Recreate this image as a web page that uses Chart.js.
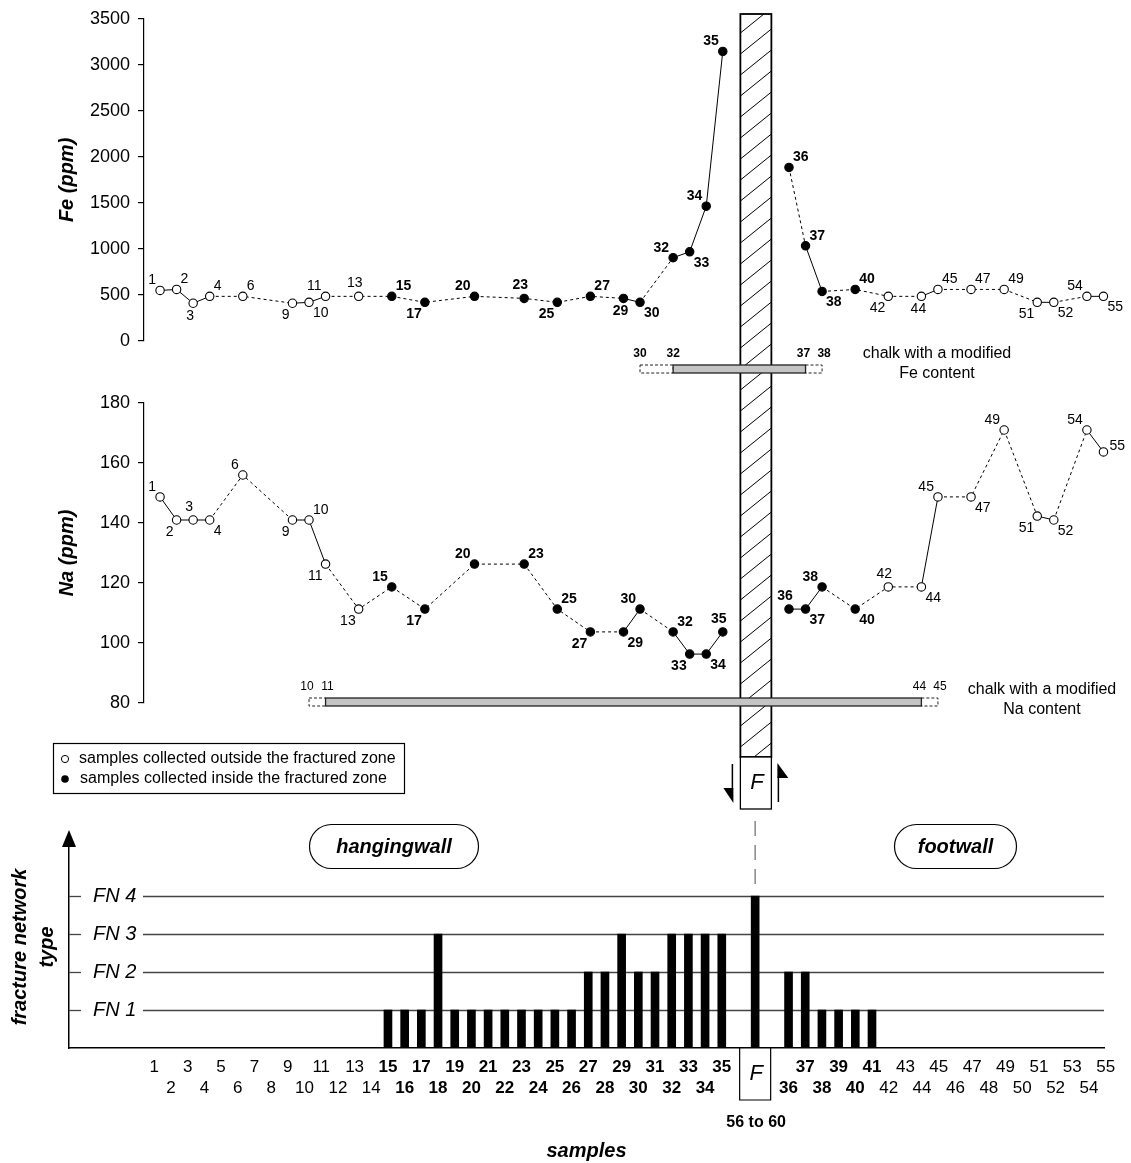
<!DOCTYPE html>
<html><head><meta charset="utf-8">
<script src="https://cdn.jsdelivr.net/npm/chart.js@4/dist/chart.umd.min.js"></script>
<style>
html,body{margin:0;padding:0;background:#fff;}
#wrap{position:relative;width:1131px;height:1163px;overflow:hidden;}
canvas{position:absolute;left:0;top:0;}
</style></head>
<body><div id="wrap">
<canvas id="cFe" width="1131" height="1163"></canvas>
<canvas id="cNa" width="1131" height="1163"></canvas>
<canvas id="cFN" width="1131" height="1163"></canvas>
</div>
<script>
// ---------------- data ----------------
const samples  = [1,2,3,4,6,9,10,11,13,15,17,20,23,25,27,29,30,32,33,34,35,36,37,38,40,42,44,45,47,49,51,52,54,55];
const feValues = [549,560,410,485,485,410,420,485,485,485,420,485,463,420,485,463,420,905,969,1464,3145,1885,1034,538,560,485,485,560,560,560,420,420,485,485];
const naValues = [148.7,141,141,141,156,141,141,126.3,111.3,118.7,111.3,126.3,126.3,111.3,103.7,103.7,111.3,103.7,96.3,96.3,103.7,111.3,111.3,118.7,111.3,118.7,118.7,148.7,148.7,171,142.3,141,171,163.7];
const fracturedZone = [15, 40];          // first / last sample collected inside the fractured zone
const feTicks = [0,500,1000,1500,2000,2500,3000,3500];
const naTicks = [80,100,120,140,160,180];
const fnSamples = [15,16,17,18,19,20,21,22,23,24,25,26,27,28,29,30,31,32,33,34,35,36,37,38,39,40,41];
const fnValues  = [1,1,1,3,1,1,1,1,1,1,1,1,2,2,3,2,2,3,3,3,3,2,2,1,1,1,1];
const faultFN = 4;
const fnTickValues = [1,2,3,4];
const fnTickLabels = ['FN 1','FN 2','FN 3','FN 4'];
const sampleNumbers = [1,2,3,4,5,6,7,8,9,10,11,12,13,14,15,16,17,18,19,20,21,22,23,24,25,26,27,28,29,30,31,32,33,34,35,36,37,38,39,40,41,42,43,44,45,46,47,48,49,50,51,52,53,54,55];
const boldSampleRange = [15, 41];
const feChalk = [30, 32, 37, 38];   // dashed start, modified start, modified end, dashed end
const naChalk = [10, 11, 44, 45];
const faultLabel = '56 to 60';

// ---------------- style helpers ----------------
const FONT = "'Liberation Sans', Arial, Helvetica, sans-serif";
Chart.defaults.font.family = FONT;
Chart.defaults.color = '#000';
const LAST_HW = 35, FAULT_GAP = 3, FAULT_POS = 37;
const posOf = s => s <= LAST_HW ? s : s + FAULT_GAP;
const sampleAt = p => p <= LAST_HW ? p : p - FAULT_GAP;
const inside = s => s >= fracturedZone[0] && s <= fracturedZone[1];
const feDottedExtra = ['36-37'];
const feLabelPos = ['ul','ur','d','ur','ur','dl','dr','ul','u','ur','dl','ul','u','dl','ur','d','dr','ul','dr','ul','ul','ur','ur','dr','ur','dl','d','ur','ur','ur','dl','dr','ul','dr'];
const naLabelPos = ['ul','dl','u','dr','ul','dl','ur','dl','dl','ul','dl','ul','ur','ur','dl','dr','ul','ur','dl','dr','u','u','dr','ul','dr','u','dr','ul','dr','ul','dl','dr','ul','r'];

function segStyle(extra) {
  return {
    borderDash: c => {
      const a = samples[c.p0DataIndex], b = samples[c.p1DataIndex];
      return (b - a > 1 || extra.includes(a + '-' + b)) ? [3, 3] : undefined;
    },
    borderColor: c => {
      const a = samples[c.p0DataIndex], b = samples[c.p1DataIndex];
      return (a <= LAST_HW && b > LAST_HW) ? 'rgba(0,0,0,0)' : undefined;
    }
  };
}

function labelPlugin(codes) {
  return {
    id: 'ptLabels',
    afterDatasetsDraw(chart) {
      const ctx = chart.ctx, meta = chart.getDatasetMeta(0);
      ctx.save();
      ctx.fillStyle = '#000'; ctx.textAlign = 'center'; ctx.textBaseline = 'middle';
      meta.data.forEach((pt, i) => {
        const s = samples[i], txt = String(s);
        ctx.font = (inside(s) ? 'bold ' : '') + '14px ' + FONT;
        const hw = ctx.measureText(txt).width / 2;
        let dx = 0, dy = 0;
        switch (codes[i]) {
          case 'ul': dx = -(4 + hw); dy = -10; break;
          case 'ur': dx = 4 + hw; dy = -10; break;
          case 'dl': dx = -(3 + hw); dy = 12; break;
          case 'dr': dx = 4 + hw; dy = 11; break;
          case 'u': dx = -4; dy = -13; break;
          case 'd': dx = -3; dy = 13; break;
          case 'r': dx = 6 + hw; dy = -6; break;
        }
        ctx.fillText(txt, pt.x + dx, pt.y + dy);
      });
      ctx.restore();
    }
  };
}

function lineChart(id, values, ticks, min, max, top, bottom, title, codes, extra) {
  return new Chart(document.getElementById(id), {
    type: 'line',
    data: { datasets: [{
      data: samples.map((s, i) => ({ x: posOf(s), y: values[i] })),
      borderColor: '#000', borderWidth: 1, tension: 0,
      pointRadius: 4.2, pointBorderWidth: 1.1, pointBorderColor: '#000',
      pointBackgroundColor: samples.map(s => inside(s) ? '#000' : '#fff'),
      segment: segStyle(extra), clip: false
    }]},
    options: {
      responsive: false, animation: false, events: [],
      layout: { padding: { top: top, bottom: 1163 - bottom, left: 0, right: 11 } },
      plugins: { legend: { display: false }, tooltip: { enabled: false } },
      scales: {
        x: { type: 'linear', min: 0.03, max: 59, display: false },
        y: {
          min: min, max: max,
          afterBuildTicks: s => { s.ticks = ticks.map(v => ({ value: v })); },
          afterFit: s => { s.width = 144; },
          grid: { drawOnChartArea: false, drawTicks: true, tickLength: 6, color: '#000', lineWidth: 1.2 },
          border: { display: true, color: '#000', width: 1.2 },
          ticks: { padding: 8, color: '#000', font: { size: 18 }, callback: v => String(v) },
          title: { display: true, text: title, color: '#000',
                   font: { size: 20, weight: 'bold', style: 'italic' }, padding: { top: 55, bottom: 0 } }
        }
      }
    },
    plugins: [labelPlugin(codes)]
  });
}

const feChart = lineChart('cFe', feValues, feTicks, 0, 3500, 16, 341, 'Fe (ppm)', feLabelPos, feDottedExtra);
const naChart = lineChart('cNa', naValues, naTicks, 80, 180, 403, 703, 'Na (ppm)', naLabelPos, []);

// ---------------- overlay drawing ----------------
function chalkBar(ctx, chart, range, yc, bold) {
  const xs = range.map(s => chart.scales.x.getPixelForValue(posOf(s)));
  const h = 8, y = yc - h / 2;
  ctx.save();
  ctx.lineWidth = 1;
  ctx.strokeStyle = '#222';
  ctx.fillStyle = '#fff';
  ctx.setLineDash([3, 2]);
  ctx.fillRect(xs[0], y, xs[1] - xs[0], h); ctx.strokeRect(xs[0], y, xs[1] - xs[0], h);
  ctx.fillRect(xs[2], y, xs[3] - xs[2], h); ctx.strokeRect(xs[2], y, xs[3] - xs[2], h);
  ctx.setLineDash([]);
  ctx.fillStyle = '#c4c4c4'; ctx.lineWidth = 1.3;
  ctx.fillRect(xs[1], y, xs[2] - xs[1], h); ctx.strokeRect(xs[1], y, xs[2] - xs[1], h);
  ctx.fillStyle = '#000'; ctx.textAlign = 'center'; ctx.textBaseline = 'middle';
  ctx.font = (bold ? 'bold ' : '') + '12px ' + FONT;
  ctx.fillText(String(range[0]), xs[0] - (bold ? 0 : 2), yc - 15);
  ctx.fillText(String(range[1]), xs[1] + (bold ? 0 : 2), yc - 15);
  ctx.fillText(String(range[2]), xs[2] - 2, yc - 15);
  ctx.fillText(String(range[3]), xs[3] + 2, yc - 15);
  ctx.restore();
}

function pill(ctx, x, y, w, h, text) {
  const r = h / 2;
  ctx.save();
  ctx.beginPath();
  ctx.moveTo(x + r, y); ctx.lineTo(x + w - r, y);
  ctx.arc(x + w - r, y + r, r, -Math.PI / 2, Math.PI / 2);
  ctx.lineTo(x + r, y + h);
  ctx.arc(x + r, y + r, r, Math.PI / 2, Math.PI * 1.5);
  ctx.closePath();
  ctx.fillStyle = '#fff'; ctx.fill();
  ctx.strokeStyle = '#000'; ctx.lineWidth = 1.2; ctx.stroke();
  ctx.fillStyle = '#000'; ctx.textAlign = 'center'; ctx.textBaseline = 'middle';
  ctx.font = 'italic bold 20px ' + FONT;
  ctx.fillText(text, x + w / 2, y + h / 2 + 1);
  ctx.restore();
}

const overlay = {
  id: 'overlay',
  beforeDatasetsDraw(chart) {
    const ctx = chart.ctx, ys = chart.scales.y, area = chart.chartArea;
    ctx.save();
    ctx.strokeStyle = '#444'; ctx.lineWidth = 1.3;
    fnTickValues.forEach(v => {
      const y = Math.round(ys.getPixelForValue(v)) + 0.5;
      ctx.beginPath(); ctx.moveTo(area.left, y); ctx.lineTo(area.left + 12, y); ctx.stroke();
      ctx.beginPath(); ctx.moveTo(143, y); ctx.lineTo(area.right, y); ctx.stroke();
    });
    ctx.restore();
  },
  afterDraw(chart) {
    const ctx = chart.ctx, area = chart.chartArea;
    const xc = feChart.scales.x.getPixelForValue(FAULT_POS);
    const xL = xc - 15.5, xR = xc + 15.5, bandTop = 14, boxTop = 757, boxBot = 809;
    // hatched fault band
    ctx.save();
    ctx.fillStyle = '#fff'; ctx.fillRect(xL, bandTop, xR - xL, boxTop - bandTop);
    ctx.beginPath(); ctx.rect(xL, bandTop, xR - xL, boxTop - bandTop); ctx.clip();
    ctx.strokeStyle = '#000'; ctx.lineWidth = 1;
    for (let y = bandTop + 19; y < boxTop + 40; y += 21) {
      ctx.beginPath(); ctx.moveTo(xL, y); ctx.lineTo(xR, y - 25); ctx.stroke();
    }
    ctx.restore();
    ctx.save();
    ctx.strokeStyle = '#000'; ctx.lineWidth = 1.8;
    ctx.strokeRect(xL, bandTop, xR - xL, boxTop - bandTop);
    ctx.lineWidth = 1.3;
    ctx.fillStyle = '#fff'; ctx.fillRect(xL, boxTop, xR - xL, boxBot - boxTop);
    ctx.strokeRect(xL, boxTop, xR - xL, boxBot - boxTop);
    ctx.fillStyle = '#000'; ctx.textAlign = 'center'; ctx.textBaseline = 'middle';
    ctx.font = 'italic 22px ' + FONT;
    ctx.fillText('F', xc + 1, 783);
    // fault movement arrows
    ctx.lineWidth = 1.5;
    ctx.beginPath(); ctx.moveTo(xL - 8, 764); ctx.lineTo(xL - 8, 790); ctx.stroke();
    ctx.beginPath(); ctx.moveTo(xL - 17, 788); ctx.lineTo(xL - 7, 788); ctx.lineTo(xL - 7, 803); ctx.closePath(); ctx.fill();
    ctx.beginPath(); ctx.moveTo(xR + 7, 802); ctx.lineTo(xR + 7, 776); ctx.stroke();
    ctx.beginPath(); ctx.moveTo(xR + 6, 763); ctx.lineTo(xR + 17, 778); ctx.lineTo(xR + 6, 778); ctx.closePath(); ctx.fill();
    ctx.restore();
    // dashed fault trace
    const xb = chart.scales.x.getPixelForValue(FAULT_POS);
    ctx.save();
    ctx.strokeStyle = '#888'; ctx.lineWidth = 1.5; ctx.setLineDash([15, 9]);
    ctx.beginPath(); ctx.moveTo(xb, 821); ctx.lineTo(xb, 889); ctx.stroke();
    ctx.restore();
    // chalk bars
    chalkBar(ctx, feChart, feChalk, 369, true);
    chalkBar(ctx, naChart, naChalk, 702, false);
    ctx.save();
    ctx.fillStyle = '#000'; ctx.textAlign = 'center'; ctx.textBaseline = 'middle';
    ctx.font = '16px ' + FONT;
    ctx.fillText('chalk with a modified', 937, 354);
    ctx.fillText('Fe content', 937, 374);
    ctx.fillText('chalk with a modified', 1042, 690);
    ctx.fillText('Na content', 1042, 710);
    ctx.restore();
    // legend
    ctx.save();
    ctx.strokeStyle = '#000'; ctx.lineWidth = 1.2;
    ctx.fillStyle = '#fff';
    ctx.fillRect(53.5, 743.5, 351, 50); ctx.strokeRect(53.5, 743.5, 351, 50);
    ctx.lineWidth = 1;
    ctx.beginPath(); ctx.arc(65, 759, 3.6, 0, Math.PI * 2); ctx.stroke();
    ctx.fillStyle = '#000';
    ctx.beginPath(); ctx.arc(65, 779, 3.8, 0, Math.PI * 2); ctx.fill();
    ctx.textAlign = 'left'; ctx.textBaseline = 'middle'; ctx.font = '16px ' + FONT;
    ctx.fillText('samples collected outside the fractured zone', 79, 759);
    ctx.fillText('samples collected inside the fractured zone', 80, 779);
    ctx.restore();
    // wall labels
    pill(ctx, 309.5, 824.5, 169, 44, 'hangingwall');
    pill(ctx, 894.5, 824.5, 122, 44, 'footwall');
    // y-axis arrow head
    ctx.save();
    ctx.fillStyle = '#000';
    ctx.beginPath(); ctx.moveTo(area.left - 7, area.top + 1); ctx.lineTo(area.left + 7, area.top + 1); ctx.lineTo(area.left, area.top - 16); ctx.closePath(); ctx.fill();
    // fault box on the sample axis
    ctx.strokeStyle = '#000'; ctx.lineWidth = 1.2;
    ctx.beginPath();
    ctx.moveTo(xb - 15.5, area.bottom); ctx.lineTo(xb - 15.5, 1100); ctx.lineTo(xb + 15.5, 1100); ctx.lineTo(xb + 15.5, area.bottom);
    ctx.stroke();
    ctx.textAlign = 'center'; ctx.textBaseline = 'middle';
    ctx.font = 'italic 22px ' + FONT;
    ctx.fillText('F', xb + 1, 1074);
    ctx.font = 'bold 16px ' + FONT;
    ctx.fillText(faultLabel, xb + 1, 1123);
    ctx.restore();
  }
};

const fnChart = new Chart(document.getElementById('cFN'), {
  type: 'bar',
  data: { datasets: [{
    data: fnSamples.map((s, i) => ({ x: posOf(s), y: fnValues[i] })).concat([{ x: FAULT_POS, y: faultFN }]),
    backgroundColor: '#000', borderWidth: 0, barThickness: 8
  }]},
  options: {
    responsive: false, animation: false, events: [],
    layout: { padding: { top: 846, bottom: 0, left: 0, right: 27 } },
    plugins: { legend: { display: false }, tooltip: { enabled: false } },
    scales: {
      x: {
        type: 'linear', min: -4.11, max: 57.9, offset: false,
        afterBuildTicks: s => { s.ticks = sampleNumbers.map(n => ({ value: posOf(n) })); },
        afterFit: s => { s.height = 115; },
        grid: { display: false, drawTicks: false },
        border: { display: true, color: '#000', width: 1.5 },
        ticks: {
          autoSkip: false, maxRotation: 0, minRotation: 0, padding: 9.5, color: '#000',
          callback: v => { const n = sampleAt(v); return n % 2 ? [String(n), ''] : ['', String(n)]; },
          font: c => {
            const n = c.tick ? sampleAt(c.tick.value) : 0;
            return { size: 17, weight: (n >= boldSampleRange[0] && n <= boldSampleRange[1]) ? 'bold' : 'normal' };
          }
        },
        title: { display: true, text: 'samples', color: '#000',
                 font: { size: 20, weight: 'bold', style: 'italic' }, padding: { top: 0, bottom: 0 } }
      },
      y: {
        min: 0, max: 5.316,
        afterBuildTicks: s => { s.ticks = fnTickValues.map(v => ({ value: v })); },
        afterFit: s => { s.width = 69; },
        grid: { display: false, drawTicks: false },
        border: { display: true, color: '#000', width: 1.5 },
        ticks: { mirror: true, padding: 24, color: '#000', font: { size: 20, style: 'italic' },
                 callback: v => fnTickLabels[fnTickValues.indexOf(v)] },
        title: { display: true, text: ['fracture network', 'type'], color: '#000',
                 font: { size: 20, weight: 'bold', style: 'italic', lineHeight: 1.35 }, padding: { top: 6.5, bottom: 0 } }
      }
    }
  },
  plugins: [overlay]
});
</script>
</body></html>
